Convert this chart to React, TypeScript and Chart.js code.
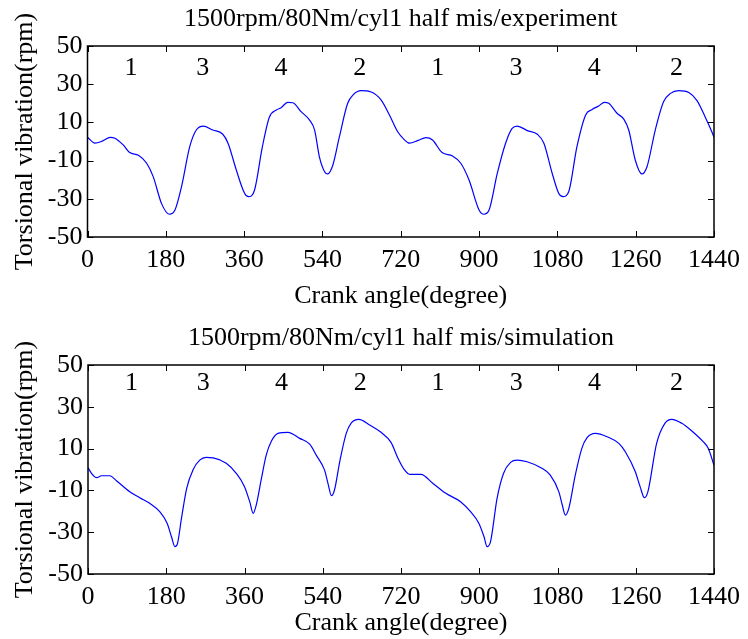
import React, { useEffect, useRef } from 'react';
import { Chart, registerables } from 'chart.js';

Chart.register(...registerables);

const xTicks = [0, 180, 360, 540, 720, 900, 1080, 1260, 1440];
const yTicks = [-50, -30, -10, 10, 30, 50];
const cylinderLabels = ['1', '3', '4', '2', '1', '3', '4', '2'];
const cylinderAngles = [100, 265, 445, 626, 805, 985, 1165, 1354];

const expAngles = [0, 17, 35, 52, 63, 82, 97, 117, 136, 151, 170, 188, 201, 216, 235, 250, 266, 288, 311, 323, 342, 361, 370, 384, 402, 418, 434, 445, 460, 472, 491, 510, 522, 533, 545, 552, 564, 579, 598, 610, 629, 652, 675, 694, 713, 728, 740, 760, 778, 793, 815, 839, 858, 877, 900, 911, 923, 942, 961, 976, 988, 1011, 1034, 1049, 1068, 1083, 1093, 1106, 1125, 1145, 1160, 1175, 1188, 1198, 1217, 1233, 1244, 1259, 1274, 1286, 1305, 1324, 1340, 1359, 1382, 1401, 1420, 1435, 1440];
const expValues = [2.2, -0.9, 0.3, 2.2, 1.7, -1.8, -5.8, -7.2, -11.4, -18.4, -32.4, -38.1, -35.9, -23.7, -2.7, 6.0, 8.1, 6.0, 3.8, -0.9, -14.9, -27.1, -28.9, -25.4, -2.7, 12.7, 16.5, 17.7, 20.5, 20.3, 15.6, 11.3, 6.0, -8.0, -15.8, -17.0, -12.3, 2.5, 20.0, 24.3, 26.6, 25.9, 21.7, 13.9, 5.1, 1.0, -0.9, 0.6, 2.0, 0.8, -5.8, -7.6, -11.4, -20.2, -35.9, -38.1, -35.9, -16.6, -0.9, 6.9, 8.1, 5.7, 3.8, -0.9, -16.6, -27.1, -28.9, -26.3, -2.7, 13.9, 16.8, 18.6, 20.5, 20.0, 14.8, 11.6, 6.0, -9.7, -17.0, -13.2, 6.0, 20.8, 25.2, 26.6, 25.6, 21.4, 12.7, 5.1, 2.2];

const simAngles = [0, 8, 20, 31, 50, 66, 96, 119, 142, 165, 182, 192, 200, 206, 215, 227, 242, 257, 272, 288, 318, 341, 360, 372, 380, 387, 399, 410, 422, 437, 460, 487, 510, 525, 544, 552, 560, 567, 579, 594, 605, 623, 648, 674, 697, 713, 728, 740, 766, 793, 823, 857, 880, 899, 911, 918, 926, 941, 956, 972, 987, 1010, 1044, 1063, 1083, 1091, 1098, 1106, 1121, 1136, 1148, 1167, 1194, 1221, 1236, 1259, 1270, 1280, 1288, 1308, 1327, 1343, 1366, 1389, 1415, 1427, 1440];
const simValues = [0.9, -1.8, -3.9, -3.0, -3.0, -5.5, -10.6, -13.5, -16.2, -20.2, -25.7, -32.2, -36.9, -35.3, -23.4, -9.0, 0.0, 4.5, 5.8, 5.6, 3.0, -1.8, -8.2, -15.4, -21.0, -17.0, -4.2, 6.9, 13.6, 17.3, 17.8, 14.9, 12.1, 6.9, -0.2, -6.6, -12.5, -9.8, 3.7, 17.3, 22.1, 24.0, 21.3, 17.8, 13.0, 5.4, -0.2, -2.3, -2.3, -6.6, -11.4, -15.4, -20.2, -25.7, -32.2, -36.9, -34.5, -13.8, -1.8, 3.4, 4.5, 3.7, 0.6, -2.6, -10.6, -17.0, -21.8, -18.6, -2.6, 10.1, 15.2, 17.3, 15.7, 12.5, 8.5, -1.1, -8.2, -13.5, -10.6, 12.5, 22.1, 24.0, 22.1, 18.4, 13.3, 10.1, 2.0];

const FONT_FAMILY = '"Liberation Serif", "Times New Roman", serif';

type Opts = {
  angles: number[];
  values: number[];
  title: string;
  padTop: number;
  padRight: number;
  yWidth: number;
  xHeight: number;
  labelValue: number;
  xTitlePadBottom: number;
};

function makeChart(canvas: HTMLCanvasElement, o: Opts) {
  const font = { family: FONT_FAMILY, size: 26, weight: 'normal' as const, lineHeight: 1.2 };
  const framePlugin = {
    id: 'frame',
    afterDraw(chart: any) {
      const { ctx, chartArea } = chart;
      const xs = chart.scales.x;
      const ys = chart.scales.y;
      const { left, right, top, bottom } = chartArea;
      ctx.save();
      ctx.strokeStyle = '#000';
      ctx.lineWidth = 1.5;
      ctx.strokeRect(left, top, right - left, bottom - top);
      ctx.lineWidth = 1;
      const tl = 6;
      ctx.beginPath();
      xTicks.forEach((v) => {
        const px = Math.round(xs.getPixelForValue(v)) + 0.5;
        ctx.moveTo(px, bottom);
        ctx.lineTo(px, bottom - tl);
        ctx.moveTo(px, top);
        ctx.lineTo(px, top + tl);
      });
      yTicks.forEach((v) => {
        const py = Math.round(ys.getPixelForValue(v)) + 0.5;
        ctx.moveTo(left, py);
        ctx.lineTo(left + tl, py);
        ctx.moveTo(right, py);
        ctx.lineTo(right - tl, py);
      });
      ctx.stroke();
      ctx.fillStyle = '#000';
      ctx.font = `26px ${FONT_FAMILY}`;
      ctx.textAlign = 'center';
      ctx.textBaseline = 'middle';
      cylinderLabels.forEach((lab, i) => {
        ctx.fillText(lab, xs.getPixelForValue(cylinderAngles[i]), ys.getPixelForValue(o.labelValue));
      });
      ctx.fillText(o.title, (left + right) / 2, top - 27);
      ctx.restore();
    },
  };

  return new Chart(canvas, {
    type: 'line',
    data: {
      datasets: [
        {
          data: o.angles.map((a, i) => ({ x: a, y: o.values[i] })),
          borderColor: '#0000ff',
          borderWidth: 1.2,
          pointRadius: 0,
          cubicInterpolationMode: 'monotone',
          fill: false,
        },
      ],
    },
    options: {
      animation: false,
      responsive: false,
      maintainAspectRatio: false,
      devicePixelRatio: 1,
      layout: { padding: { top: o.padTop, right: o.padRight, left: 0, bottom: 0 } },
      plugins: { legend: { display: false }, title: { display: false }, tooltip: { enabled: false } },
      scales: {
        x: {
          type: 'linear',
          min: 0,
          max: 1440,
          afterBuildTicks: (s: any) => {
            s.ticks = xTicks.map((v) => ({ value: v }));
          },
          afterFit: (s: any) => {
            s.height = o.xHeight;
          },
          grid: { display: false, drawTicks: false },
          border: { display: false },
          ticks: {
            font,
            color: '#000',
            padding: 8,
            maxRotation: 0,
            autoSkip: false,
            callback: (v: any) => String(v),
          },
          title: {
            display: true,
            text: 'Crank angle(degree)',
            font,
            color: '#000',
            padding: { top: 0, bottom: o.xTitlePadBottom },
          },
        },
        y: {
          type: 'linear',
          min: -50,
          max: 50,
          afterBuildTicks: (s: any) => {
            s.ticks = yTicks.map((v) => ({ value: v }));
          },
          afterFit: (s: any) => {
            s.width = o.yWidth;
          },
          grid: { display: false, drawTicks: false },
          border: { display: false },
          ticks: { font, color: '#000', padding: 5, autoSkip: false, callback: (v: any) => String(v) },
          title: {
            display: true,
            text: 'Torsional vibration(rpm)',
            font,
            color: '#000',
            padding: { top: 10, bottom: 0 },
          },
        },
      },
    },
    plugins: [framePlugin],
  } as any);
}

export default function App() {
  const topRef = useRef<HTMLCanvasElement>(null);
  const botRef = useRef<HTMLCanvasElement>(null);

  useEffect(() => {
    const c1 = makeChart(topRef.current!, {
      angles: expAngles,
      values: expValues,
      title: '1500rpm/80Nm/cyl1 half mis/experiment',
      padTop: 46,
      padRight: 30.5,
      yWidth: 87.5,
      xHeight: 83,
      labelValue: 38.5,
      xTitlePadBottom: 8,
    });
    const c2 = makeChart(botRef.current!, {
      angles: simAngles,
      values: simValues,
      title: '1500rpm/80Nm/cyl1 half mis/simulation',
      padTop: 45,
      padRight: 31,
      yWidth: 88,
      xHeight: 65,
      labelValue: 41.4,
      xTitlePadBottom: 0,
    });
    return () => {
      c1.destroy();
      c2.destroy();
    };
  }, []);

  return (
    <div style={{ position: 'absolute', left: 0, top: 0, width: 748, height: 639, background: '#fff' }}>
      <canvas ref={topRef} width={748} height={320} style={{ position: 'absolute', left: 0, top: 0, width: 748, height: 320 }} />
      <canvas ref={botRef} width={748} height={319} style={{ position: 'absolute', left: 0, top: 320, width: 748, height: 319 }} />
    </div>
  );
}
